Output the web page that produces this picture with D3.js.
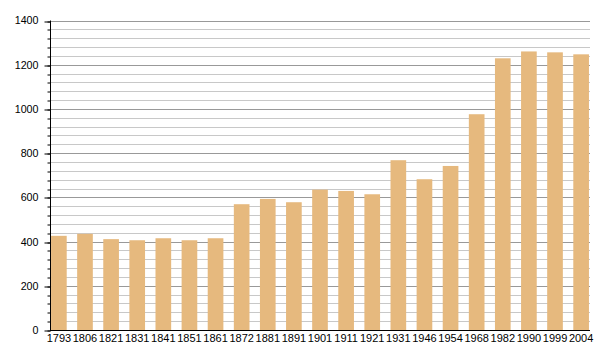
<!DOCTYPE html>
<html>
<head>
<meta charset="utf-8">
<script src="https://cdn.jsdelivr.net/npm/d3@7"></script>
<style>
  body { margin: 0; background: #fff; }
  text { font-family: "Liberation Sans", Arial, sans-serif; }
</style>
</head>
<body>
<svg id="chart" width="600" height="360"></svg>
<script>
const years = ["1793","1806","1821","1831","1841","1851","1861","1872","1881","1891","1901","1911","1921","1931","1946","1954","1968","1982","1990","1999","2004"];
const population = [426,435,411,406,415,406,415,569,593,578,635,629,614,768,682,742,976,1229,1260,1256,1247];
const majorTicks = [0,200,400,600,800,1000,1200,1400];
const minorTicks = d3.range(0, 1401, 40);

(function () {
const svg = d3.select("#chart");
const mLeft = 50, mRight = 590, mTop = 20.5, mBottom = 330;

const x = d3.scaleBand().domain(years).range([mLeft, mRight]).paddingInner(0.4).paddingOuter(0.04);
const y = d3.scaleLinear().domain([0, 1400]).range([mBottom, mTop]);
const py = d => Math.round(y(d)) + 0.5;

// minor grid
svg.append("g").selectAll("line").data(minorTicks).join("line")
  .attr("x1", mLeft).attr("x2", mRight)
  .attr("y1", py).attr("y2", py)
  .attr("stroke", "#c8c8c8").attr("stroke-width", 1);
// major grid
svg.append("g").selectAll("line").data(majorTicks.filter(d => d > 0)).join("line")
  .attr("x1", mLeft).attr("x2", mRight)
  .attr("y1", py).attr("y2", py)
  .attr("stroke", "#999").attr("stroke-width", 1);

// bars
svg.append("g").selectAll("rect").data(years).join("rect")
  .attr("x", d => x(d)).attr("width", x.bandwidth())
  .attr("y", (d, i) => y(population[i]))
  .attr("height", (d, i) => y(0) - y(population[i]))
  .attr("fill", "#e6b97e");

// y axis
const yAxisMinor = d3.axisLeft(y).tickValues(minorTicks).tickSize(3).tickFormat("");
svg.append("g").attr("transform", `translate(${mLeft + 0.5},0)`).call(yAxisMinor)
  .call(g => g.select(".domain").remove())
  .call(g => g.selectAll("line").attr("stroke", "#000").attr("transform", d => `translate(0,${py(d) - y(d)})`));
const yAxis = d3.axisLeft(y).tickValues(majorTicks).tickSize(6).tickPadding(6).tickFormat(d3.format("d"));
svg.append("g").attr("transform", `translate(${mLeft + 0.5},0)`).call(yAxis)
  .call(g => g.select(".domain").attr("stroke", "#000").attr("d", `M0,${mTop}V${mBottom + 0.5}`))
  .call(g => g.selectAll("line").attr("stroke", "#000").attr("transform", d => `translate(0,${py(d) - y(d)})`))
  .call(g => g.selectAll("text").attr("font-size", 10.7).attr("fill", "#000")
    .attr("font-family", "'Liberation Sans', Arial, sans-serif"));

// x axis
const xAxis = d3.axisBottom(x).tickSize(0).tickPadding(4);
svg.append("g").attr("transform", `translate(0,${mBottom + 0.5})`).call(xAxis)
  .call(g => g.select(".domain").attr("stroke", "#000").attr("stroke-width", 1.2).attr("d", `M${mLeft},0H${mRight}`))
  .call(g => g.selectAll("text").attr("font-size", 11).attr("fill", "#000")
    .attr("font-family", "'Liberation Sans', Arial, sans-serif"));
})();
</script>
</body>
</html>
